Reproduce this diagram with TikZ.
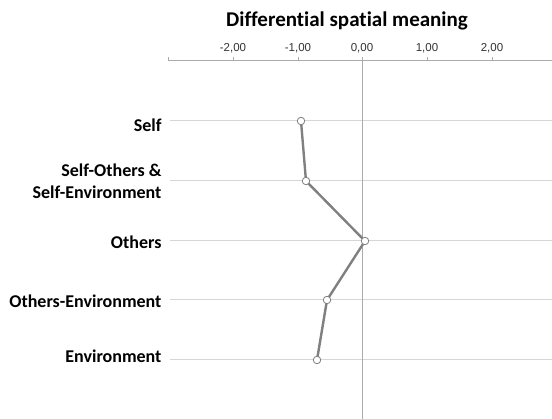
\documentclass[tikz,border=0pt]{standalone}
\usepackage{fontspec}
\setmainfont{Carlito}[Ligatures={NoCommon}]
\newfontfamily\tickfont{Liberation Sans}
\begin{document}
\begin{tikzpicture}[x=1pt,y=-1pt]

    \tikzset{
      gridline/.style={color={black!16},line width=1},
      axisline/.style={color={black!33},line width=1},
      meanline/.style={color={black!50},line width=2.4},
      point/.style={
        circle,
        draw={black!50},
        fill=white,
        line width=0.8,
        inner sep=0pt,
        minimum size=7.5pt,
      },
      cat/.style={anchor=east,align=right,font=\bfseries\fontsize{18}{22}\selectfont},
      tick/.style={anchor=south,text={black!80},font=\tickfont\fontsize{11.5}{13}\selectfont},
    }
    \useasboundingbox (0,0) rectangle (552,419);

	\node (title) at (347,21) {\bfseries\fontsize{21}{24}\selectfont Differential spatial meaning};

	\draw[gridline] (170,121)--(552,121);
	\draw[gridline] (170,181)--(552,181);
	\draw[gridline] (170,241)--(552,241);
	\draw[gridline] (170,300)--(552,300);
	\draw[gridline] (170,360)--(552,360);

	\draw[axisline] (168,61)--(552,61);
	\draw[axisline] (362,61)--(362,419);
	\draw[axisline] (168,61)--(168,57);
	\draw[axisline] (233,61)--(233,57);
	\draw[axisline] (298,61)--(298,57);
	\draw[axisline] (362,61)--(362,57);
	\draw[axisline] (427,61)--(427,57);
	\draw[axisline] (492,61)--(492,57);

	\node[tick] (t1) at (233,57) {-2,00};
	\node[tick] (t2) at (298,57) {-1,00};
	\node[tick] (t3) at (362,57) {0,00};
	\node[tick] (t4) at (427,57) {1,00};
	\node[tick] (t5) at (492,57) {2,00};

	\node[cat] (self) at (165,125) {Self};
	\node[cat] (selfothers) at (165,181) {Self-Others \&\\Self-Environment};
	\node[cat] (others) at (165,242.5) {Others};
	\node[cat] (othersenv) at (165,301.5) {Others-Environment};
	\node[cat] (env) at (165,356.5) {Environment};

	\coordinate (p1) at (301,121);
	\coordinate (p2) at (306,181);
	\coordinate (p3) at (365,241);
	\coordinate (p4) at (327,300);
	\coordinate (p5) at (317,360);
	\draw[meanline] (p1)--(p2)--(p3)--(p4)--(p5);
	\node[point] at (p1) {};
	\node[point] at (p2) {};
	\node[point] at (p3) {};
	\node[point] at (p4) {};
	\node[point] at (p5) {};

\end{tikzpicture}
\end{document}
